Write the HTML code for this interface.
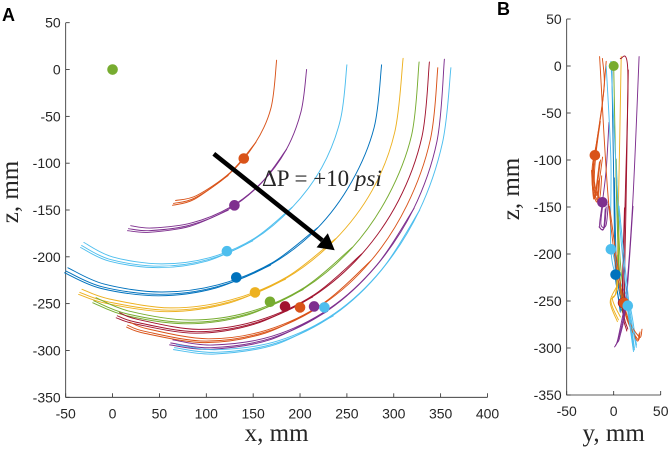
<!DOCTYPE html>
<html><head><meta charset="utf-8"><style>
html,body{margin:0;padding:0;background:#fff;}
svg{display:block;}
text{font-family:"Liberation Sans",sans-serif;fill:#262626;}
.serif{font-family:"Liberation Serif",serif;fill:#262626;}
</style></head><body>
<svg id="chart" width="670" height="449" viewBox="0 0 670 449">
<g id="panelA"></g>
<g id="panelB"></g>
</svg>
<script>
// ---- data ----
const colorsA = ["#D95319","#7E2F8E","#4DBEEE","#0072BD","#EDB120","#77AC30","#A2142F","#D95319","#7E2F8E","#4DBEEE"];
const tracesAx = [
 [175,169,152,124,88,65],
 [207,201,185,158,124,83,40,17],
 [250,243,223,191,150,102,50,-2,-33],
 [287,279,255,218,169,111,50,-11,-50],
 [310,301,277,237,185,125,60,-5,-35],
 [327,319,294,255,204,144,80,16,-20],
 [338,330,305,265,214,154,90,26,5],
 [347,339,314,275,224,164,100,36,16],
 [354,346,321,281,230,169,105,62],
 [361,352,327,287,236,175,110,66]
];
const tracesAz = [
 [10,-41,-79,-112,-137,-143],
 [0,-45,-86,-122,-149,-166,-172,-170],
 [5,-54,-105,-148,-182,-203,-210,-203,-188],
 [5,-62,-120,-170,-208,-232,-240,-232,-215],
 [12,-67,-129,-182,-223,-248,-257,-248,-238],
 [8,-70,-135,-191,-234,-261,-270,-261,-247],
 [8,-72,-140,-198,-242,-270,-280,-270,-263],
 [2,-75,-145,-205,-251,-280,-290,-280,-273],
 [11,-77,-149,-210,-257,-287,-297,-292],
 [2,-78,-151,-214,-262,-292,-302,-297]
];
const markersAx = [140,130,122,132,152,168,184,200,215,226];
const markersAz = [-95,-145,-194,-222,-238,-248,-253,-254,-253,-254];
const originMarker = [0,0];
const arrowStart = [108,-90];
const arrowEnd = [237,-193];
const xTicksA = [-50,0,50,100,150,200,250,300,350,400];
const zTicks = [50,0,-50,-100,-150,-200,-250,-300,-350];
const yTicksB = [-50,0,50];

const tracesBy = [
 [-12,-10,-15,-20,-22,-17,-15],
 [-8,-12,-18,-23,-20,-14],
 [-5,-8,-12,-15,-10,-8],
 [-8,-3,-3,5,15,22],
 [-2,0,2,8],
 [8,5,3,-3,5],
 [0,2,5,10],
 [7,15,12,10,15],
 [-15,-5,10,25,28],
 [27,20,12,5,2],
 [-3,5,15,22]
];
const tracesBz = [
 [8,-20,-60,-95,-125,-143,-120],
 [5,-40,-80,-110,-140,-100],
 [-60,-110,-145,-170,-172,-150],
 [0,-100,-195,-230,-255,-300],
 [0,-120,-222,-260],
 [10,-150,-235,-250,-270],
 [0,-100,-200,-260],
 [8,-5,-150,-252,-280],
 [10,-150,-255,-290,-283],
 [10,-150,-255,-290,-297],
 [5,-150,-255,-302]
];
const colorsB = ["#D95319","#D95319","#7E2F8E","#4DBEEE","#0072BD","#EDB120","#77AC30","#A2142F","#D95319","#7E2F8E","#4DBEEE"];
const markersBy = [-20,-12,-3,2,10,11,15];
const markersBz = [-95,-145,-195,-222,-252,-252,-255];
const markersBc = ["#D95319","#7E2F8E","#4DBEEE","#0072BD","#A2142F","#D95319","#4DBEEE"];

// ---- scales ----
const NS="http://www.w3.org/2000/svg";
const axA={x0:65.7,x1:487.5,d0:-50,d1:400,y0:22.7,y1:397.3,z0:50,z1:-350};
const axB={x0:566.7,x1:660.7,d0:-50,d1:50,y0:19,y1:395,z0:50,z1:-350};
function sx(a,v){return a.x0+(v-a.d0)/(a.d1-a.d0)*(a.x1-a.x0);}
function sz(a,v){return a.y0+(a.z0-v)/(a.z0-a.z1)*(a.y1-a.y0);}
function el(tag,attrs,parent){const e=document.createElementNS(NS,tag);for(const k in attrs)e.setAttribute(k,attrs[k]);parent.appendChild(e);return e;}
function smooth(pts){
 let d="M"+pts[0][0].toFixed(1)+","+pts[0][1].toFixed(1);
 for(let i=0;i<pts.length-1;i++){
  const p0=pts[Math.max(0,i-1)],p1=pts[i],p2=pts[i+1],p3=pts[Math.min(pts.length-1,i+2)];
  const c1=[p1[0]+(p2[0]-p0[0])/6,p1[1]+(p2[1]-p0[1])/6];
  const c2=[p2[0]-(p3[0]-p1[0])/6,p2[1]-(p3[1]-p1[1])/6];
  d+="C"+c1[0].toFixed(1)+","+c1[1].toFixed(1)+" "+c2[0].toFixed(1)+","+c2[1].toFixed(1)+" "+p2[0].toFixed(1)+","+p2[1].toFixed(1);
 }
 return d;
}
function drawAxes(g,a,xt,xlabel,letter,lx,ly,zlabelX){
 const ax=el("path",{d:"M"+a.x0+","+a.y0+"V"+a.y1+"H"+a.x1,fill:"none",stroke:"#262626","stroke-width":0.8},g);
 
 
 zTicks.forEach(v=>{
  const y=sz(a,v);
  el("line",{x1:a.x0,x2:a.x0+4,y1:y,y2:y,stroke:"#262626","stroke-width":0.8},g);
  const t=el("text",{x:a.x0-5,y:y+5,"text-anchor":"end","font-size":14},g);t.textContent=v;
  
  
 });
 xt.forEach(v=>{
  const x=sx(a,v);
  el("line",{x1:x,x2:x,y1:a.y1,y2:a.y1-4,stroke:"#262626","stroke-width":0.8},g);
  const t=el("text",{x:x,y:a.y1+21,"text-anchor":"middle","font-size":14},g);t.textContent=v;
  
  
 });
 const xl=el("text",{x:(a.x0+a.x1)/2,y:441,"text-anchor":"middle","font-size":25,class:"serif"},g);xl.textContent=xlabel;
 
 
 const cy=(a.y0+a.y1)/2-18;
 const zl=el("text",{x:zlabelX,y:cy,"text-anchor":"middle","font-size":25,class:"serif",transform:"rotate(-90 "+zlabelX+" "+cy+")"},g);zl.textContent="z, mm";
 
 
 const L=el("text",{x:lx,y:ly,"font-size":18,"font-weight":"bold",style:"fill:#000"},g);L.textContent=letter;
 
 
}
const offs=[[0,0,1],[2.5,-3.5,0.7],[-1.2,2.2,0.5]];
function drawTraces(g,a,X,Z,C,name){
 X.forEach((xs,i)=>{
  offs.forEach((o,k)=>{
   const n=Math.max(2,Math.round(xs.length*o[2]));
   const pts=xs.map((x,j)=>[sx(a,x)+(k?o[0]*(j/xs.length):0),sz(a,Z[i][j])+(k?o[1]*(j/xs.length):0)]);
   const sub=k===0?pts:pts.slice(pts.length-n);
   const p=el("path",{d:smooth(sub),fill:"none",stroke:C[i],"stroke-width":0.95,"stroke-linecap":"round"},g);
   
   
  });
 });
}
function drawMarkers(g,a,X,Z,C,name){
 X.forEach((x,i)=>{
  const c=el("circle",{cx:sx(a,x),cy:sz(a,Z[i]),r:5.3,fill:C[i]},g);
  
  
 });
}
// ---- panel A ----
const gA=document.getElementById("panelA");
drawAxes(gA,axA,xTicksA,"x, mm","A",2,21,18);
drawTraces(gA,axA,tracesAx,tracesAz,colorsA,"trajectory-a");
drawMarkers(gA,axA,markersAx,markersAz,colorsA,"mean-position-marker");
const om=el("circle",{cx:sx(axA,originMarker[0]),cy:sz(axA,originMarker[1]),r:5.3,fill:"#77AC30"},gA);


const ax1=sx(axA,arrowStart[0]),ay1=sz(axA,arrowStart[1]),ax2=sx(axA,arrowEnd[0]),ay2=sz(axA,arrowEnd[1]);
const ang=Math.atan2(ay2-ay1,ax2-ax1);
const bx=ax2-16*Math.cos(ang),by=ay2-16*Math.sin(ang);
const ar=el("line",{x1:ax1,y1:ay1,x2:bx,y2:by,stroke:"#000","stroke-width":4.5},gA);


const hw=9;
const ah=el("polygon",{points:[[ax2,ay2],[bx+hw*Math.sin(ang),by-hw*Math.cos(ang)],[bx-hw*Math.sin(ang),by+hw*Math.cos(ang)]].map(p=>p.join(",")).join(" "),fill:"#000"},gA);


const an=el("text",{x:262,y:186,"font-size":23,class:"serif"},gA);
an.innerHTML='ΔP = +10 <tspan font-style="italic">psi</tspan>';


// ---- panel B ----
const gB=document.getElementById("panelB");
drawAxes(gB,axB,yTicksB,"y, mm","B",497,15,519);
drawTraces(gB,axB,tracesBy,tracesBz,colorsB,"trajectory-b");
const omB=el("circle",{cx:sx(axB,0),cy:sz(axB,0),r:5,fill:"#77AC30"},gB);


drawMarkers(gB,axB,markersBy,markersBz,markersBc,"mean-position-marker-b");
</script>
</body></html>
